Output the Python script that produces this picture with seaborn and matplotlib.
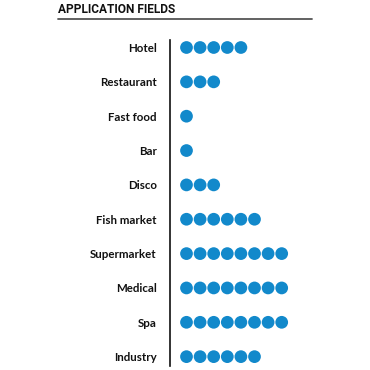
import matplotlib
matplotlib.use("Agg")
import matplotlib.pyplot as plt
import seaborn as sns
import pandas as pd
from matplotlib.lines import Line2D

categories = ["Hotel", "Restaurant", "Fast food", "Bar", "Disco", "Fish market",
              "Supermarket", "Medical", "Spa", "Industry"]
counts = [5, 3, 1, 1, 3, 6, 8, 8, 8, 6]
title = "APPLICATION FIELDS"

rows = []
for cat, n in zip(categories, counts):
    for k in range(1, n + 1):
        rows.append({"field": cat, "pos": k})
df = pd.DataFrame(rows)

sns.set_style("white")
plt.rcParams['font.family'] = ['Lato', 'DejaVu Sans']

W = H = 370
fig = plt.figure(figsize=(3.7, 3.7), dpi=100)
ax_left, ax_right = 170, 312
ax_top, ax_bottom = 40, 366
ax = fig.add_axes([ax_left / W, 1 - ax_bottom / H, (ax_right - ax_left) / W, (ax_bottom - ax_top) / H])

pitch = 13.6
first = 186.5
xl0 = 1 - (first - ax_left) / pitch
ax.set_xlim(xl0, xl0 + (ax_right - ax_left) / pitch)

rowgap = 34.35
y0 = 47.5
yl0 = -(y0 - ax_top) / rowgap
ax.set_ylim(yl0 + (ax_bottom - ax_top) / rowgap, yl0)

df["row"] = df["field"].map({c: i for i, c in enumerate(categories)})
sns.scatterplot(data=df, x="pos", y="row", ax=ax, s=84, color="#1289cb",
                edgecolor="none", linewidth=0, legend=False)

ax.set_yticks(range(len(categories)))
ax.set_yticklabels(categories, fontsize=8.3, fontweight="bold", color="#111111")
ax.set_xticks([])
ax.tick_params(axis="y", length=0, pad=9.5)
ax.set_xlabel("")
ax.set_ylabel("")
for s in ["top", "right", "bottom"]:
    ax.spines[s].set_visible(False)
ax.spines["left"].set_color("#111111")
ax.spines["left"].set_linewidth(1.2)

fig.text(58 / W, 1 - 9.5 / H, title, fontsize=8.6, fontweight="bold",
         family=["Roboto", "DejaVu Sans"], color="#111111", va="center", ha="left")
fig.add_artist(Line2D([58 / W, 312 / W], [1 - 18.5 / H, 1 - 18.5 / H],
                      transform=fig.transFigure, color="#555555", linewidth=1.3))

fig.savefig("out.png", dpi=100)
